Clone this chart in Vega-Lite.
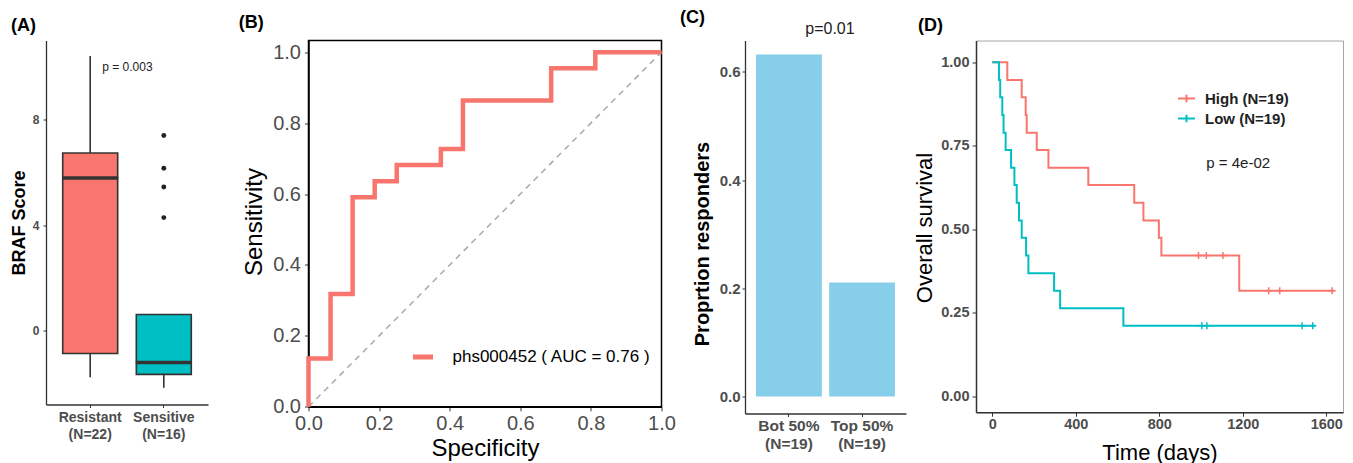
{
  "$schema": "https://vega.github.io/schema/vega-lite/v6.json",
  "background": "white",
  "padding": {"left": 10, "top": 8.5, "right": 5, "bottom": 0},
  "config": {
    "font": "Liberation Sans",
    "view": {"stroke": null},
    "axis": {"grid": false, "labelFont": "Liberation Sans", "titleFont": "Liberation Sans"},
    "legend": {"labelFont": "Liberation Sans", "titleFont": "Liberation Sans"},
    "title": {"font": "Liberation Sans", "fontSize": 18, "fontWeight": "bold", "color": "black", "anchor": "start", "frame": "group"}
  },
  "spacing": 29.5,
  "resolve": {"scale": {"color": "independent"}, "legend": {"color": "independent"}},
  "hconcat": [
    {
      "width": 162,
      "height": 364,
      "title": {"text": "(A)", "dx": -35, "offset": 6},
      "encoding": {
        "x": {
          "field": "g", "type": "nominal", "sort": null,
          "scale": {"domain": ["Resistant|(N=22)", "Sensitive|(N=16)"], "paddingInner": 0.253, "paddingOuter": 0.227},
          "axis": {"title": null, "labelExpr": "split(datum.label,'|')", "labelAngle": 0, "labelFontSize": 14, "labelFontWeight": "bold", "labelColor": "#4D4D4D", "labelLineHeight": 17, "labelPadding": 3, "labelBaseline": "top", "tickSize": 3, "tickColor": "#333333", "domainColor": "#333333", "domainWidth": 1.3}
        }
      },
      "layer": [
        {
          "data": {"name": "boxes"},
          "mark": {"type": "rule", "stroke": "#333333", "strokeWidth": 1.6},
          "encoding": {
            "y": {"field": "lo", "type": "quantitative", "scale": {"domain": [-2.79, 11.0], "nice": false, "zero": false},
              "axis": {"title": "BRAF Score", "values": [0, 4, 8], "labelFontSize": 12, "labelFontWeight": "bold", "labelColor": "#4D4D4D", "labelPadding": 4, "tickSize": 3, "tickColor": "#333333", "domainColor": "#333333", "domainWidth": 1.3, "titleFontSize": 18, "titleFontWeight": "bold", "titleColor": "black", "titleX": -26.5, "titleY": 182, "titleAngle": -90, "titleAlign": "center", "titleBaseline": "middle"}},
            "y2": {"field": "hi"}
          }
        },
        {
          "data": {"name": "boxes"},
          "mark": {"type": "bar", "stroke": "#333333", "strokeWidth": 1.6},
          "encoding": {
            "y": {"field": "q1", "type": "quantitative", "scale": {"domain": [-2.79, 11.0], "nice": false, "zero": false}},
            "y2": {"field": "q3"},
            "fill": {"field": "g", "type": "nominal", "scale": {"domain": ["Resistant|(N=22)", "Sensitive|(N=16)"], "range": ["#F8766D", "#00BFC4"]}, "legend": null}
          }
        },
        {
          "data": {"name": "boxes"},
          "mark": {"type": "tick", "color": "#333333", "thickness": 3.5, "size": 56, "opacity": 1},
          "encoding": {
            "y": {"field": "med", "type": "quantitative", "scale": {"domain": [-2.79, 11.0], "nice": false, "zero": false}}
          }
        },
        {
          "data": {"name": "outliers"},
          "mark": {"type": "circle", "color": "#222222", "size": 24, "opacity": 1},
          "encoding": {
            "y": {"field": "v", "type": "quantitative", "scale": {"domain": [-2.79, 11.0], "nice": false, "zero": false}}
          }
        },
        {
          "data": {"values": [{"g": "Resistant|(N=22)", "y": 10.0, "label": "p = 0.003"}]},
          "mark": {"type": "text", "align": "left", "baseline": "middle", "dx": 12, "fontSize": 12, "color": "#222222"},
          "encoding": {
            "y": {"field": "y", "type": "quantitative", "scale": {"domain": [-2.79, 11.0], "nice": false, "zero": false}},
            "text": {"field": "label"}
          }
        }
      ]
    },
    {
      "spacing": 3.5,
      "resolve": {"scale": {"color": "independent"}, "legend": {"color": "independent"}},
      "hconcat": [
        {
          "width": 353,
          "height": 366.3,
          "title": {"text": "(B)", "dx": -69.7, "offset": 9},
          "view": {"stroke": "black", "strokeWidth": 1.5},
          "encoding": {
            "x": {"field": "sp", "type": "quantitative", "scale": {"domain": [0, 1], "nice": false},
              "axis": {"title": "Specificity", "values": [0, 0.2, 0.4, 0.6, 0.8, 1], "format": ".1f", "labelFlush": false, "labelFontSize": 20, "labelColor": "#4D4D4D", "labelPadding": 3, "tickSize": 4, "tickColor": "#333333", "domainColor": "black", "domainWidth": 1.5, "titleFontSize": 24, "titleFontWeight": "normal", "titleColor": "black", "titleY": 41.5, "titleBaseline": "middle"}},
            "y": {"field": "se", "type": "quantitative", "scale": {"domain": [0, 1.033], "nice": false},
              "axis": {"title": "Sensitivity", "values": [0, 0.2, 0.4, 0.6, 0.8, 1], "format": ".1f", "labelFontSize": 20, "labelColor": "#4D4D4D", "labelPadding": 4, "tickSize": 4, "tickColor": "#333333", "domainColor": "black", "domainWidth": 1.5, "titleFontSize": 24, "titleFontWeight": "normal", "titleColor": "black", "titleX": -54, "titleY": 181, "titleAngle": -90, "titleAlign": "center", "titleBaseline": "middle"}}
          },
          "layer": [
            {
              "data": {"values": [{"sp": 0, "se": 0}, {"sp": 1, "se": 1}]},
              "mark": {"type": "line", "color": "#A8A8A8", "strokeWidth": 1.5, "strokeDash": [6, 5]}
            },
            {
              "data": {"name": "roc"},
              "mark": {"type": "line", "interpolate": "step-after", "strokeWidth": 4.5},
              "encoding": {
                "color": {"field": "name", "type": "nominal", "scale": {"domain": ["phs000452 ( AUC =  0.76 )"], "range": ["#F8766D"]},
                  "legend": {"title": null, "orient": "none", "legendX": 102, "legendY": 304, "padding": 0, "symbolType": "stroke", "symbolStrokeWidth": 5, "symbolSize": 400, "labelFontSize": 17, "labelColor": "black", "labelOffset": 17, "labelLimit": 400}}
              }
            }
          ]
        },
        {
          "spacing": 6,
          "resolve": {"scale": {"color": "independent"}, "legend": {"color": "independent"}},
          "hconcat": [
            {
              "width": 161,
              "height": 373,
              "title": {"text": "(C)", "dx": -65, "offset": -6},
              "encoding": {
                "x": {"field": "g", "type": "nominal", "sort": null,
                  "scale": {"domain": ["Bot 50%|(N=19)", "Top 50%|(N=19)"], "paddingInner": 0.1, "paddingOuter": 0.151},
                  "axis": {"title": null, "labelExpr": "split(datum.label,'|')", "labelAngle": 0, "labelFontSize": 15.5, "labelFontWeight": "bold", "labelColor": "#4D4D4D", "labelLineHeight": 17.5, "labelPadding": 2, "labelBaseline": "top", "tickSize": 3, "tickColor": "#333333", "domainColor": "#333333", "domainWidth": 1.3}},
                "y": {"field": "p", "type": "quantitative", "scale": {"domain": [-0.0314, 0.658], "nice": false, "zero": false},
                  "axis": {"title": "Proprtion responders", "values": [0, 0.2, 0.4, 0.6], "format": ".1f", "labelFontSize": 15, "labelFontWeight": "bold", "labelColor": "#4D4D4D", "labelPadding": 2, "tickSize": 3, "tickColor": "#333333", "domainColor": "#333333", "domainWidth": 1.3, "titleFontSize": 20, "titleFontWeight": "bold", "titleColor": "black", "titleX": -43, "titleY": 203, "titleAngle": -90, "titleAlign": "center", "titleBaseline": "middle"}}
              },
              "layer": [
                {
                  "data": {"name": "resp"},
                  "mark": {"type": "bar", "color": "#87CEEB"},
                  "encoding": {"y2": {"datum": 0}}
                },
                {
                  "data": {"values": [{"g": "Bot 50%|(N=19)", "p": 0.68, "label": "p=0.01"}]},
                  "mark": {"type": "text", "align": "center", "baseline": "middle", "dx": 41, "fontSize": 16, "color": "#222222"},
                  "encoding": {"text": {"field": "label"}}
                }
              ]
            },
            {
              "width": 367,
              "height": 371.7,
              "title": {"text": "(D)", "dx": -58, "offset": 6},
              "view": {"stroke": "#A6A6A6", "strokeWidth": 1},
              "encoding": {
                "x": {"field": "t", "type": "quantitative", "scale": {"domain": [-78, 1680], "nice": false, "zero": false},
                  "axis": {"title": "Time (days)", "values": [0, 400, 800, 1200, 1600], "format": "d", "labelFlush": false, "labelFontSize": 14.5, "labelFontWeight": "bold", "labelColor": "#4D4D4D", "labelPadding": 1.5, "tickSize": 4, "tickColor": "#333333", "domainColor": "#333333", "domainWidth": 1.5, "titleFontSize": 22, "titleFontWeight": "normal", "titleColor": "black", "titleY": 40, "titleBaseline": "middle"}},
                "y": {"field": "s", "type": "quantitative", "scale": {"domain": [-0.048, 1.065], "nice": false, "zero": false},
                  "axis": {"title": "Overall survival", "values": [0, 0.25, 0.5, 0.75, 1], "format": ".2f", "labelFontSize": 14.5, "labelFontWeight": "bold", "labelColor": "#4D4D4D", "labelPadding": 3, "tickSize": 4, "tickColor": "#333333", "domainColor": "#333333", "domainWidth": 1.5, "titleFontSize": 22, "titleFontWeight": "normal", "titleColor": "black", "titleX": -52, "titleY": 187, "titleAngle": -90, "titleAlign": "center", "titleBaseline": "middle"}},
                "color": {"field": "grp", "type": "nominal", "scale": {"domain": ["High (N=19)", "Low (N=19)"], "range": ["#F8766D", "#00BFC4"]},
                  "legend": {"title": null, "orient": "none", "legendX": 201, "legendY": 48.5, "padding": 0, "symbolType": "M-1,0H1M0,-0.45V0.45", "symbolStrokeWidth": 2, "symbolSize": 289, "labelFontSize": 15, "labelFontWeight": "bold", "labelColor": "#222222", "labelOffset": 9, "rowPadding": 2}}
              },
              "layer": [
                {
                  "data": {"name": "km"},
                  "mark": {"type": "line", "interpolate": "step-after", "strokeWidth": 2}
                },
                {
                  "data": {"name": "censor"},
                  "mark": {"type": "point", "shape": "M-1,0H1M0,-1V1", "filled": false, "strokeWidth": 1.5, "size": 49, "opacity": 1}
                },
                {
                  "data": {"values": [{"t": 1178, "s": 0.697, "label": "p = 4e-02"}]},
                  "mark": {"type": "text", "align": "center", "baseline": "middle", "fontSize": 15, "color": "#222222"},
                  "encoding": {"text": {"field": "label"}, "color": {"value": "#222222"}}
                }
              ]
            }
          ]
        }
      ]
    }
  ],
  "datasets": {
    "boxes": [
      {"g": "Resistant|(N=22)", "lo": -1.76, "q1": -0.86, "med": 5.79, "q3": 6.74, "hi": 10.41},
      {"g": "Sensitive|(N=16)", "lo": -2.16, "q1": -1.65, "med": -1.2, "q3": 0.62, "hi": 0.62}
    ],
    "outliers": [
      {"g": "Sensitive|(N=16)", "v": 7.40},
      {"g": "Sensitive|(N=16)", "v": 6.16},
      {"g": "Sensitive|(N=16)", "v": 5.45},
      {"g": "Sensitive|(N=16)", "v": 4.29}
    ],
    "roc": [
      {"name": "phs000452 ( AUC =  0.76 )", "sp": 0, "se": 0},
      {"name": "phs000452 ( AUC =  0.76 )", "sp": 0, "se": 0.1364},
      {"name": "phs000452 ( AUC =  0.76 )", "sp": 0.0625, "se": 0.3182},
      {"name": "phs000452 ( AUC =  0.76 )", "sp": 0.125, "se": 0.5909},
      {"name": "phs000452 ( AUC =  0.76 )", "sp": 0.1875, "se": 0.6364},
      {"name": "phs000452 ( AUC =  0.76 )", "sp": 0.25, "se": 0.6818},
      {"name": "phs000452 ( AUC =  0.76 )", "sp": 0.375, "se": 0.7273},
      {"name": "phs000452 ( AUC =  0.76 )", "sp": 0.4375, "se": 0.8636},
      {"name": "phs000452 ( AUC =  0.76 )", "sp": 0.6875, "se": 0.9545},
      {"name": "phs000452 ( AUC =  0.76 )", "sp": 0.8125, "se": 1},
      {"name": "phs000452 ( AUC =  0.76 )", "sp": 1, "se": 1}
    ],
    "resp": [
      {"g": "Bot 50%|(N=19)", "p": 0.632},
      {"g": "Top 50%|(N=19)", "p": 0.2105}
    ],
    "km": [
      {"grp": "High (N=19)", "t": 0, "s": 1},
      {"grp": "High (N=19)", "t": 72, "s": 0.947},
      {"grp": "High (N=19)", "t": 141, "s": 0.895},
      {"grp": "High (N=19)", "t": 160, "s": 0.842},
      {"grp": "High (N=19)", "t": 165, "s": 0.789},
      {"grp": "High (N=19)", "t": 213, "s": 0.737},
      {"grp": "High (N=19)", "t": 269, "s": 0.684},
      {"grp": "High (N=19)", "t": 460, "s": 0.632},
      {"grp": "High (N=19)", "t": 680, "s": 0.579},
      {"grp": "High (N=19)", "t": 724, "s": 0.526},
      {"grp": "High (N=19)", "t": 798, "s": 0.474},
      {"grp": "High (N=19)", "t": 810, "s": 0.421},
      {"grp": "High (N=19)", "t": 1183, "s": 0.316},
      {"grp": "High (N=19)", "t": 1639, "s": 0.316},
      {"grp": "Low (N=19)", "t": 0, "s": 1},
      {"grp": "Low (N=19)", "t": 32, "s": 0.947},
      {"grp": "Low (N=19)", "t": 38, "s": 0.895},
      {"grp": "Low (N=19)", "t": 48, "s": 0.842},
      {"grp": "Low (N=19)", "t": 54, "s": 0.789},
      {"grp": "Low (N=19)", "t": 64, "s": 0.737},
      {"grp": "Low (N=19)", "t": 90, "s": 0.684},
      {"grp": "Low (N=19)", "t": 106, "s": 0.632},
      {"grp": "Low (N=19)", "t": 117, "s": 0.579},
      {"grp": "Low (N=19)", "t": 128, "s": 0.526},
      {"grp": "Low (N=19)", "t": 141, "s": 0.474},
      {"grp": "Low (N=19)", "t": 162, "s": 0.421},
      {"grp": "Low (N=19)", "t": 173, "s": 0.368},
      {"grp": "Low (N=19)", "t": 296, "s": 0.316},
      {"grp": "Low (N=19)", "t": 325, "s": 0.263},
      {"grp": "Low (N=19)", "t": 628, "s": 0.2105},
      {"grp": "Low (N=19)", "t": 1548, "s": 0.2105}
    ],
    "censor": [
      {"grp": "High (N=19)", "t": 988, "s": 0.421},
      {"grp": "High (N=19)", "t": 1025, "s": 0.421},
      {"grp": "High (N=19)", "t": 1105, "s": 0.421},
      {"grp": "High (N=19)", "t": 1324, "s": 0.316},
      {"grp": "High (N=19)", "t": 1377, "s": 0.316},
      {"grp": "High (N=19)", "t": 1628, "s": 0.316},
      {"grp": "Low (N=19)", "t": 1004, "s": 0.2105},
      {"grp": "Low (N=19)", "t": 1028, "s": 0.2105},
      {"grp": "Low (N=19)", "t": 1484, "s": 0.2105},
      {"grp": "Low (N=19)", "t": 1535, "s": 0.2105}
    ]
  }
}
